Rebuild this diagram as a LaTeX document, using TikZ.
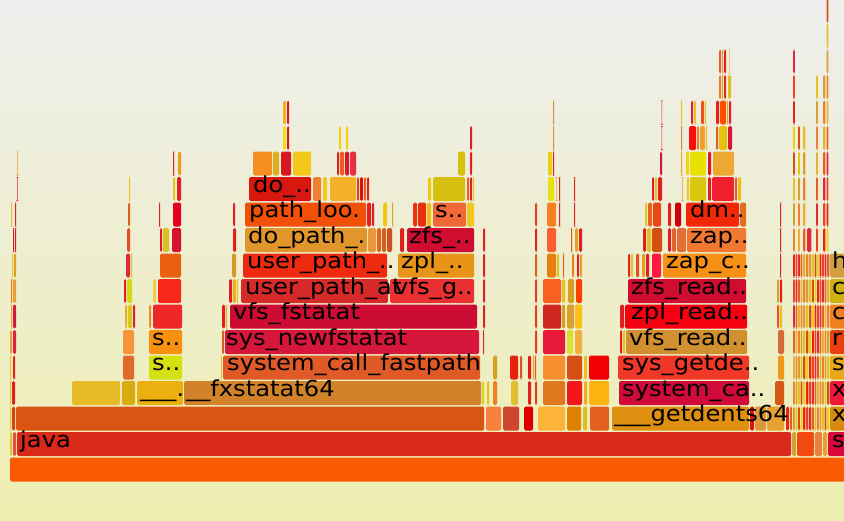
\documentclass[tikz,border=0pt]{standalone}
\usepackage{fontspec}
\newfontfamily\flamefont[FakeStretch=1.1]{DejaVu Sans}
\definecolor{bgtop}{HTML}{EEEEEE}
\definecolor{bgbot}{HTML}{EEEEB0}
\definecolor{flame0}{HTML}{E8C020}
\definecolor{flame1}{HTML}{F02010}
\definecolor{flame2}{HTML}{E86020}
\definecolor{flame3}{HTML}{D8A030}
\definecolor{flame4}{HTML}{F0D010}
\definecolor{flame5}{HTML}{E02838}
\definecolor{flame6}{HTML}{F08030}
\definecolor{flame7}{HTML}{D05010}
\definecolor{flame8}{HTML}{F04020}
\definecolor{flame9}{HTML}{E8B030}
\tikzset{fgbox/.style={rounded corners=1.6pt},
  flabel/.style={anchor=base west,inner sep=0pt,font=\flamefont\fontsize{22}{22}\selectfont}}
% one frame: row, left, right, colour
\newcommand\fbar[4]{\definecolor{fgc}{HTML}{#4}\fill[fgc,fgbox] (#2,{457.5-25.5*#1}) rectangle ({#3-0.8},{481.5-25.5*#1});}
% one label: name, row, x, text
\newcommand\flab[4]{\node[flabel] (#1) at (#3,{472.5-25.5*#2}) {#4};}
\begin{document}
\begin{tikzpicture}[x=1pt,y=-1pt]
\useasboundingbox (0,0) rectangle (844,520);
\shade[top color=bgtop,bottom color=bgbot] (0,0) rectangle (844,520);
\clip (0,0) rectangle (844,520);
%row 0
\fbar{0}{10}{850}{FA5A00}
%row 1
\fbar{1}{10}{13}{E8C030}\fbar{1}{13}{17}{E05040}\fbar{1}{17}{792}{D9291A}\fbar{1}{792}{797}{D4A030}
\fbar{1}{797}{815}{F04A10}\fbar{1}{815}{823}{E88040}\fbar{1}{823}{828}{E8A030}\fbar{1}{828}{850}{D8083A}
%row 2
\fbar{2}{10}{12}{E8C030}\fbar{2}{12}{16}{D84010}\fbar{2}{16}{485}{DA5514}\fbar{2}{486}{502}{F97F3C}
\fbar{2}{503}{520}{CF4530}\fbar{2}{524}{534}{DD0000}\fbar{2}{538}{566}{FDB238}\fbar{2}{567}{582}{E08000}
\fbar{2}{583}{588}{D8C020}\fbar{2}{590}{610}{E36020}\fbar{2}{612}{750}{E09010}\fbar{2}{750}{755}{E01010}
\fbar{2}{755}{767}{D89838}\fbar{2}{767}{785}{E8A030}\fbar{2}{786}{790}{F02010}\fbar{2}{790}{793}{E06020}
\fbar{2}{830}{850}{D88A10}
%row 3
\fbar{3}{10}{12}{E8C030}\fbar{3}{12}{16}{E02020}\fbar{3}{72}{121}{E8BC28}\fbar{3}{122}{136}{D8AC10}
\fbar{3}{137}{184}{EBB010}\fbar{3}{184}{482}{D2822A}\fbar{3}{482}{485}{E0D020}\fbar{3}{487}{490}{E8C020}
\fbar{3}{493}{498}{F08020}\fbar{3}{511}{519}{E0C030}\fbar{3}{528}{532}{E02020}\fbar{3}{535}{538}{E04020}
\fbar{3}{543}{566}{E07820}\fbar{3}{567}{583}{F01818}\fbar{3}{584}{588}{E8B020}\fbar{3}{589}{610}{FDB610}
\fbar{3}{619}{750}{D00A3A}\fbar{3}{775}{785}{D85818}\fbar{3}{830}{850}{F01838}
%row 4
\fbar{4}{10}{12}{E8C030}\fbar{4}{13}{16}{E02020}\fbar{4}{123}{135}{E06A2A}\fbar{4}{149}{183}{D4E010}
\fbar{4}{221}{223}{E0C030}\fbar{4}{223}{481}{E05A28}\fbar{4}{493}{498}{D4A020}\fbar{4}{510}{519}{E82010}
\fbar{4}{520}{523}{E05020}\fbar{4}{528}{532}{E01818}\fbar{4}{533}{535}{E0A020}\fbar{4}{535}{537}{E85020}
\fbar{4}{543}{566}{F98F30}\fbar{4}{567}{583}{D84C18}\fbar{4}{584}{588}{E8C020}\fbar{4}{589}{610}{F00000}
\fbar{4}{618}{750}{F03828}\fbar{4}{778}{785}{F09818}\fbar{4}{830}{850}{E8A818}
%row 5
\fbar{5}{10}{13}{E8A030}\fbar{5}{13}{17}{E02040}\fbar{5}{123}{135}{F59538}\fbar{5}{149}{183}{FA9010}
\fbar{5}{222}{225}{D06020}\fbar{5}{225}{480}{D6163A}\fbar{5}{483}{485}{E02020}\fbar{5}{535}{538}{E04020}
\fbar{5}{543}{566}{E81838}\fbar{5}{567}{574}{D8E030}\fbar{5}{575}{583}{F0B040}\fbar{5}{620}{623}{E02020}
\fbar{5}{623}{626}{E8C020}\fbar{5}{626}{748}{D09030}\fbar{5}{778}{785}{D86838}\fbar{5}{830}{850}{E84010}
%row 6
\fbar{6}{11}{13}{E8A030}\fbar{6}{13}{17}{D81838}\fbar{6}{125}{128}{E8B020}\fbar{6}{128}{133}{D8C820}
\fbar{6}{133}{136}{E02030}\fbar{6}{149}{152}{E89020}\fbar{6}{153}{183}{EE2828}\fbar{6}{222}{226}{E02020}
\fbar{6}{226}{228}{E8B020}\fbar{6}{230}{478}{CC0C32}\fbar{6}{483}{486}{E02020}\fbar{6}{535}{538}{E04020}
\fbar{6}{543}{562}{D02820}\fbar{6}{562}{566}{D8A020}\fbar{6}{567}{575}{D8A030}\fbar{6}{575}{583}{FCC018}
\fbar{6}{620}{625}{E02020}\fbar{6}{625}{748}{F40010}\fbar{6}{777}{780}{F05020}\fbar{6}{780}{783}{E8C020}
\fbar{6}{830}{850}{F08020}
%row 7
\fbar{7}{11}{13}{E87020}\fbar{7}{13}{17}{E8A030}\fbar{7}{124}{127}{E02020}\fbar{7}{127}{133}{D8D810}
\fbar{7}{153}{157}{E8D040}\fbar{7}{158}{182}{F82818}\fbar{7}{229}{233}{E02020}\fbar{7}{233}{237}{E8B020}
\fbar{7}{237}{239}{F0C010}\fbar{7}{241}{389}{D62A2A}\fbar{7}{390}{475}{EA3030}\fbar{7}{483}{486}{E02020}
\fbar{7}{535}{538}{E04020}\fbar{7}{543}{562}{FA6020}\fbar{7}{562}{566}{E8C020}\fbar{7}{568}{575}{D8A020}
\fbar{7}{576}{583}{FF4000}\fbar{7}{628}{747}{D00C30}\fbar{7}{777}{780}{D8A020}\fbar{7}{780}{783}{E02020}
\fbar{7}{830}{850}{D0B010}
%row 8
\fbar{8}{12}{14}{E8C020}\fbar{8}{14}{17}{D8A020}\fbar{8}{126}{131}{E02838}\fbar{8}{131}{133}{E8C020}
\fbar{8}{160}{182}{E86010}\fbar{8}{232}{237}{D89828}\fbar{8}{243}{388}{F02A10}\fbar{8}{398}{475}{E89418}
\fbar{8}{483}{486}{E02020}\fbar{8}{535}{538}{E06020}\fbar{8}{547}{557}{E88010}\fbar{8}{557}{560}{E8C020}
\fbar{8}{563}{565}{E06020}\fbar{8}{572}{575}{E88020}\fbar{8}{577}{580}{E02020}\fbar{8}{580}{583}{E8A020}
\fbar{8}{628}{631}{E02020}\fbar{8}{631}{634}{E8C020}\fbar{8}{636}{640}{E05020}\fbar{8}{642}{646}{E8A020}
\fbar{8}{646}{650}{E02020}\fbar{8}{652}{662}{FF1840}\fbar{8}{663}{747}{F89018}\fbar{8}{780}{782}{E02020}
\fbar{8}{830}{850}{D0A040}
%row 9
\fbar{9}{13}{15}{E02020}\fbar{9}{15}{17}{D81838}\fbar{9}{127}{131}{E05020}\fbar{9}{160}{163}{E02020}
\fbar{9}{163}{170}{D8C020}\fbar{9}{172}{182}{D81030}\fbar{9}{233}{237}{E02020}\fbar{9}{245}{368}{E0962A}
\fbar{9}{368}{377}{E89838}\fbar{9}{377}{382}{E86020}\fbar{9}{382}{387}{D06020}\fbar{9}{387}{393}{D05020}
\fbar{9}{400}{405}{E02020}\fbar{9}{407}{475}{D00C30}\fbar{9}{483}{486}{E02020}\fbar{9}{535}{538}{E02020}
\fbar{9}{547}{557}{FA5F30}\fbar{9}{571}{573}{E05020}\fbar{9}{575}{579}{E8A020}\fbar{9}{579}{583}{E02020}
\fbar{9}{643}{647}{E02020}\fbar{9}{647}{652}{E8C020}\fbar{9}{652}{663}{D05010}\fbar{9}{668}{672}{E02020}
\fbar{9}{672}{677}{E06030}\fbar{9}{677}{687}{E07038}\fbar{9}{687}{747}{F07830}\fbar{9}{780}{782}{E02020}
%row 10
\fbar{10}{11}{13}{E8C020}\fbar{10}{15}{17}{E02020}\fbar{10}{128}{131}{E06020}\fbar{10}{159}{161}{E02020}
\fbar{10}{173}{182}{E80020}\fbar{10}{233}{236}{E02020}\fbar{10}{245}{367}{F05008}\fbar{10}{367}{372}{E02020}
\fbar{10}{372}{375}{D82020}\fbar{10}{383}{388}{F0C810}\fbar{10}{392}{394}{E8A020}\fbar{10}{413}{418}{F03010}
\fbar{10}{418}{427}{E83010}\fbar{10}{427}{432}{F0C010}\fbar{10}{433}{467}{F06838}\fbar{10}{467}{475}{F0C820}
\fbar{10}{535}{538}{E04020}\fbar{10}{547}{557}{F88020}\fbar{10}{559}{561}{E02020}\fbar{10}{574}{576}{E02020}
\fbar{10}{645}{648}{E8C020}\fbar{10}{648}{653}{E86020}\fbar{10}{653}{662}{E84818}\fbar{10}{668}{672}{E02020}
\fbar{10}{675}{682}{D00010}\fbar{10}{686}{740}{F02808}\fbar{10}{740}{747}{E07020}\fbar{10}{780}{782}{E02020}
%row 11
\fbar{11}{17}{18.5}{E02020}\fbar{11}{129}{131}{E8C020}\fbar{11}{173}{176}{E8C020}\fbar{11}{177}{182}{E02020}
\fbar{11}{249}{312}{D81810}\fbar{11}{313}{322}{F08030}\fbar{11}{323}{328}{F0C820}\fbar{11}{330}{357}{F4B028}
\fbar{11}{357}{360}{E04020}\fbar{11}{360}{364}{D81010}\fbar{11}{364}{367}{E86020}\fbar{11}{367}{370}{E02020}
\fbar{11}{428}{432}{F0C810}\fbar{11}{433}{466}{D8C010}\fbar{11}{467}{470}{E86020}\fbar{11}{470}{473}{E02020}
\fbar{11}{473}{475}{F0C820}\fbar{11}{548}{555}{E8E010}\fbar{11}{556}{557.5}{E8A020}\fbar{11}{559}{561}{E02020}
\fbar{11}{574}{576}{E02020}\fbar{11}{652}{655}{E02020}\fbar{11}{655}{658}{E8C020}\fbar{11}{658}{663}{E02020}
\fbar{11}{682}{683.5}{E8A020}\fbar{11}{687}{690}{F0C810}\fbar{11}{690}{707}{D8C810}\fbar{11}{708}{712}{E02020}
\fbar{11}{712}{735}{F02030}\fbar{11}{735}{738}{E86020}\fbar{11}{738}{742}{E8C020}
%row 12
\fbar{12}{17}{18.5}{E8A020}\fbar{12}{173}{175}{E02020}\fbar{12}{178}{182}{E8A020}\fbar{12}{253}{273}{F59020}
\fbar{12}{273}{280}{D8B020}\fbar{12}{281}{292}{D81820}\fbar{12}{293}{312}{F4C818}\fbar{12}{337}{340}{E02020}
\fbar{12}{340}{345}{E86020}\fbar{12}{345}{350}{D81830}\fbar{12}{350}{357}{E83040}\fbar{12}{458}{466}{D8C010}
\fbar{12}{470}{473}{E02020}\fbar{12}{548}{553}{E8D010}\fbar{12}{553}{555}{E02020}\fbar{12}{660}{663}{D81830}
\fbar{12}{681}{683}{E8A020}\fbar{12}{686}{690}{F8D010}\fbar{12}{690}{707}{E8E000}\fbar{12}{708}{712}{D81830}
\fbar{12}{713}{735}{ECA830}
%row 13
\fbar{13}{283}{287}{F0E010}\fbar{13}{287}{290}{D81820}\fbar{13}{339}{342}{F0D010}\fbar{13}{346}{349}{F0D010}
\fbar{13}{470}{473}{E02020}\fbar{13}{553}{555}{D89028}\fbar{13}{661.5}{663}{E02020}\fbar{13}{681}{683}{E88030}
\fbar{13}{689}{697}{F81008}\fbar{13}{697}{700}{E88030}\fbar{13}{700}{706}{F0A030}\fbar{13}{706}{708}{E8C020}
\fbar{13}{716}{719}{E06020}\fbar{13}{719}{728}{E8C010}\fbar{13}{728}{733}{D81830}
%row 14
\fbar{14}{283}{287}{F0B020}\fbar{14}{287}{290}{D81820}\fbar{14}{553}{555}{D89028}\fbar{14}{661.5}{663}{E02020}
\fbar{14}{681}{683}{E8C020}\fbar{14}{691}{694}{E02020}\fbar{14}{694}{697}{E8C020}\fbar{14}{701}{705}{F05020}
\fbar{14}{705}{707}{E8C020}\fbar{14}{716}{720}{E82010}\fbar{14}{720}{727}{FF5000}\fbar{14}{727}{729}{E8A020}
\fbar{14}{729}{732}{E02020}
%rows 15, 16
\fbar{15}{719}{722}{E88020}\fbar{15}{722}{724}{E8A030}\fbar{15}{724}{727}{D83010}\fbar{15}{728}{732}{E0C020}
\fbar{16}{719}{722}{E86020}\fbar{16}{722}{724}{E8A030}\fbar{16}{724}{727}{E02020}\fbar{16}{729}{730.5}{E8C020}
%right-hand slivers
\foreach \r in {2,...,8}{
  \foreach \a/\b [count=\i] in {793/795.5,795.5/798,798/800.5,800.5/803,803/806,806/809,809/812,812/814.5,814.5/817,817/819.5,819.5/822,822/824.5,824.5/827,827/830}{
    \pgfmathtruncatemacro\k{mod(\i*7+\r*3,10)}
    \fill[flame\k,fgbox] (\a,{457.5-25.5*\r}) rectangle ({\b-0.6},{481.5-25.5*\r});
  }
}
\foreach \a/\b/\t [count=\i] in {793/795.5/16,798/800.5/13,803/806/13,807/812/9,816/818.5/15,823/826/15,826.5/829/18}{
  \foreach \r in {9,...,\t}{
    \pgfmathtruncatemacro\k{mod(\i*3+\r*7,10)}
    \fill[flame\k,fgbox] (\a,{457.5-25.5*\r}) rectangle ({\b-0.6},{481.5-25.5*\r});
  }
}
%labels
\flab{lJava}{1}{20}{java}
\flab{lGetdents}{2}{614}{\_\_\_getdents64}
\flab{lShort}{3}{140}{\_\_\_.}
\flab{lFxstat}{3}{186}{\_\_fxstatat64}
\flab{lSysCa}{3}{622}{system\_ca..}
\flab{lSA}{4}{152}{s..}
\flab{lFast}{4}{227}{system\_call\_fastpath}
\flab{lGetde}{4}{622}{sys\_getde..}
\flab{lSB}{5}{152}{s..}
\flab{lNewfs}{5}{226}{sys\_newfstatat}
\flab{lVfsRead}{5}{629}{vfs\_read..}
\flab{lVfsFs}{6}{233}{vfs\_fstatat}
\flab{lZplRead}{6}{631}{zpl\_read..}
\flab{lUpa}{7}{245}{user\_path\_at}
\flab{lVfsG}{7}{394}{vfs\_g..}
\flab{lZfsRead}{7}{631}{zfs\_read..}
\flab{lUp}{8}{247}{user\_path\_..}
\flab{lZplS}{8}{401}{zpl\_..}
\flab{lZapC}{8}{666}{zap\_c..}
\flab{lDoPath}{9}{248}{do\_path\_.}
\flab{lZfsS}{9}{409}{zfs\_..}
\flab{lZap}{9}{690}{zap..}
\flab{lPath}{10}{249}{path\_loo.}
\flab{lSC}{10}{435}{s..}
\flab{lDm}{10}{690}{dm..}
\flab{lDo}{11}{253}{do\_..}
\flab{lR1}{1}{832}{s}
\flab{lR2}{2}{832}{x}
\flab{lR3}{3}{832}{x}
\flab{lR4}{4}{832}{s}
\flab{lR5}{5}{832}{r}
\flab{lR6}{6}{832}{c}
\flab{lR7}{7}{832}{c}
\flab{lR8}{8}{832}{h}
\end{tikzpicture}
\end{document}
